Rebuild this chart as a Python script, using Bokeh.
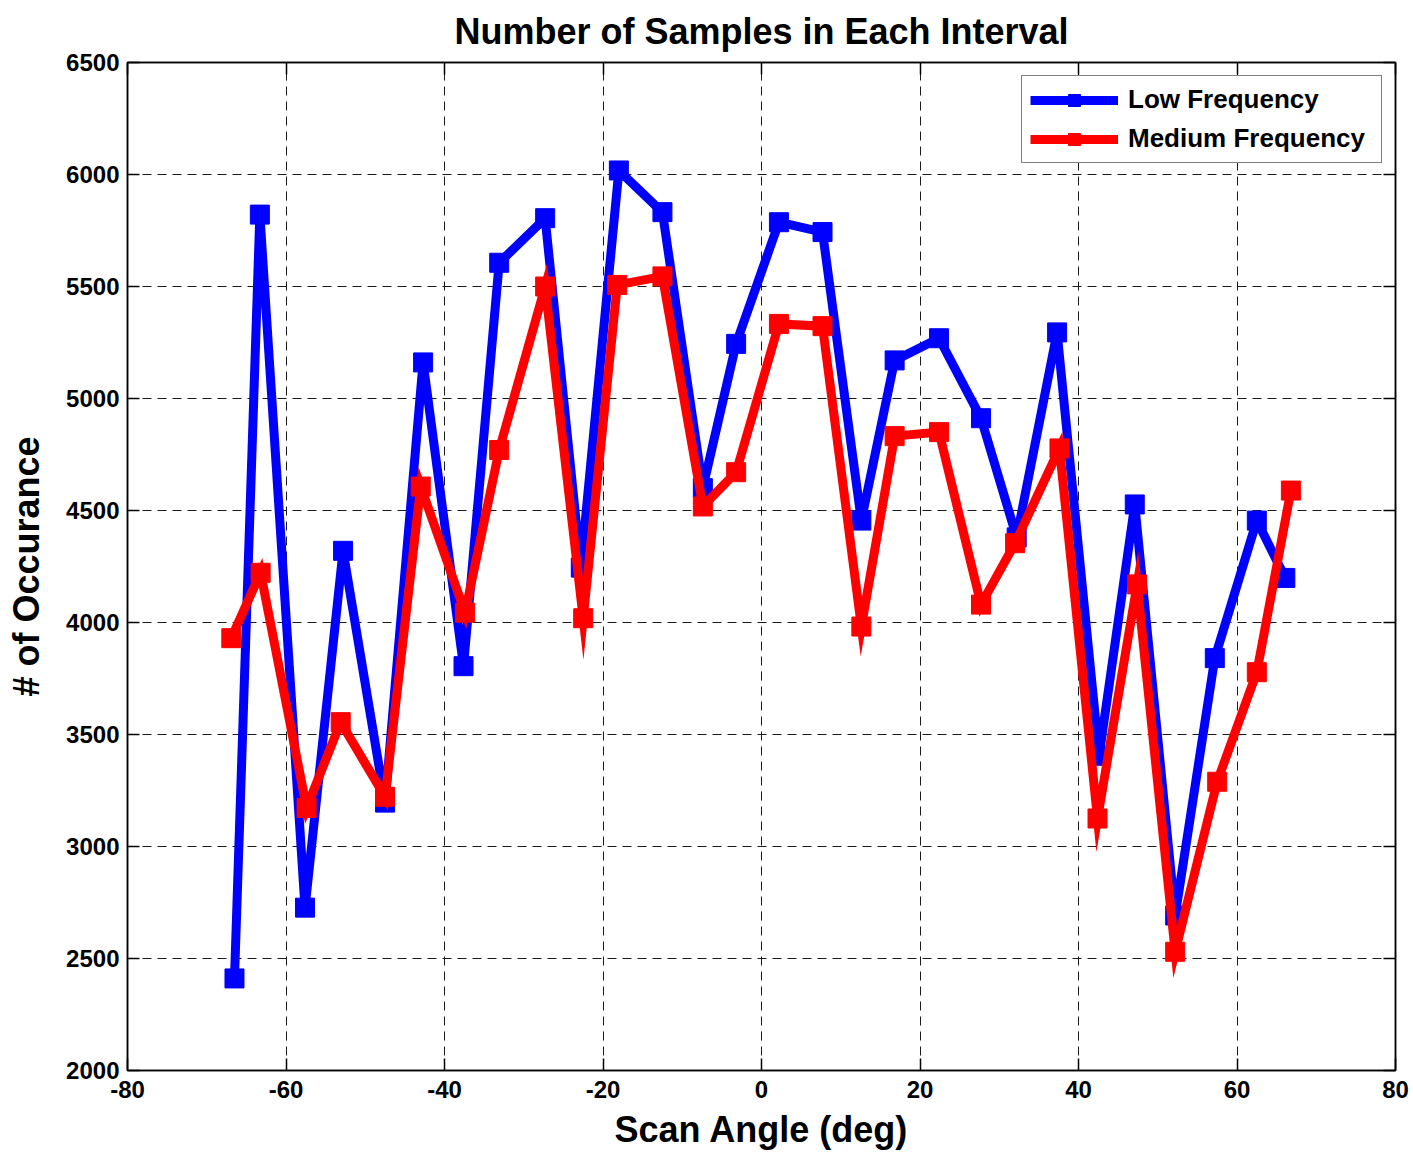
from bokeh.plotting import figure
from bokeh.models import Range1d, LinearAxis, FixedTicker, Legend, LegendItem
from bokeh.embed import file_html
from bokeh.resources import INLINE

# Scan angle of each interval centre (deg) and the sample count in it
low_angle = [-66.5, -63.3, -57.6, -52.8, -47.5, -42.7, -37.6, -33.1, -27.3, -22.8,
             -18.0, -12.5, -7.4, -3.2, 2.2, 7.7, 12.6, 16.8, 22.4, 27.7,
             32.2, 37.3, 42.6, 47.1, 52.2, 57.2, 62.5, 66.1]
low_count = [2411, 5821, 2727, 4320, 3196, 5161, 3805, 5606, 5805, 4245,
             6018, 5832, 4600, 5244, 5787, 5743, 4455, 5170, 5269, 4912,
             4380, 5295, 3405, 4527, 2692, 3841, 4455, 4199]

med_angle = [-66.9, -63.2, -57.4, -53.1, -47.5, -43.0, -37.4, -33.1, -27.3, -22.5,
             -18.2, -12.5, -7.4, -3.2, 2.2, 7.7, 12.6, 16.8, 22.4, 27.7,
             32.0, 37.6, 42.4, 47.4, 52.2, 57.5, 62.5, 66.8]
med_count = [3930, 4222, 3172, 3555, 3222, 4607, 4044, 4770, 5500, 4019,
             5507, 5545, 4518, 4671, 5333, 5323, 3982, 4832, 4850, 4080,
             4354, 4777, 3125, 4170, 2530, 3289, 3778, 4589]

x_ticks = [-80, -60, -40, -20, 0, 20, 40, 60, 80]
y_ticks = [2000, 2500, 3000, 3500, 4000, 4500, 5000, 5500, 6000, 6500]

FONT = "Liberation Sans"

p = figure(width=1413, height=1154,
           x_range=Range1d(-80, 80), y_range=Range1d(2000, 6500),
           output_backend="svg", toolbar_location=None,
           min_border_left=127, min_border_right=18,
           min_border_top=62, min_border_bottom=84,
           x_axis_label="Scan Angle (deg)", y_axis_label="# of Occurance")

p.background_fill_color = "white"
p.border_fill_color = "white"
p.outline_line_color = "black"
p.outline_line_width = 1.5

p.title.text = "Number of Samples in Each Interval"
p.title.align = "center"
p.title.vertical_align = "top"
p.title.text_font = FONT
p.title.text_font_size = "36px"
p.title.text_font_style = "bold"
p.title.text_color = "black"
p.title.standoff = 18

for ax in (p.xaxis[0], p.yaxis[0]):
    ax.axis_line_color = "black"
    ax.axis_line_width = 1.5
    ax.major_tick_in = 12
    ax.major_tick_out = 0
    ax.major_tick_line_color = "black"
    ax.major_tick_line_width = 1.5
    ax.minor_tick_line_color = None
    ax.major_label_text_font = FONT
    ax.major_label_text_font_size = "24px"
    ax.major_label_text_font_style = "bold"
    ax.major_label_text_color = "black"
    ax.axis_label_text_font = FONT
    ax.axis_label_text_font_size = "36px"
    ax.axis_label_text_font_style = "bold"
    ax.axis_label_text_color = "black"

p.xaxis[0].ticker = FixedTicker(ticks=x_ticks)
p.xaxis[0].major_label_overrides = {t: str(t) for t in x_ticks}
p.yaxis[0].ticker = FixedTicker(ticks=y_ticks)
p.xaxis[0].major_label_standoff = 10
p.yaxis[0].major_label_standoff = 8
p.xaxis[0].axis_label_standoff = 8
p.yaxis[0].axis_label_standoff = 16

# Inward ticks on the top and right edges of the box
top_axis = LinearAxis(ticker=FixedTicker(ticks=x_ticks))
right_axis = LinearAxis(ticker=FixedTicker(ticks=y_ticks))
for ax in (top_axis, right_axis):
    ax.axis_line_color = "black"
    ax.axis_line_width = 1.5
    ax.major_tick_in = 12
    ax.major_tick_out = 0
    ax.major_tick_line_color = "black"
    ax.major_tick_line_width = 1.5
    ax.minor_tick_line_color = None
    ax.major_label_text_font_size = "0px"
    ax.major_label_text_color = None
    ax.major_label_standoff = 0
p.add_layout(top_axis, "above")
p.add_layout(right_axis, "right")

p.xgrid.ticker = FixedTicker(ticks=x_ticks)
p.ygrid.ticker = FixedTicker(ticks=y_ticks)
for g in (p.xgrid[0], p.ygrid[0]):
    g.grid_line_color = "#1a1a1a"
    g.grid_line_width = 1
    g.grid_line_dash = "9 6"

low_line = p.line(low_angle, low_count, line_color="#0000ff", line_width=9,
                  line_join="bevel")
low_mark = p.scatter(low_angle, low_count, marker="square", size=19,
                     fill_color="#0000ff", line_color="#0000ff")
med_line = p.line(med_angle, med_count, line_color="#ff0000", line_width=9,
                  line_join="miter")
med_mark = p.scatter(med_angle, med_count, marker="square", size=19,
                     fill_color="#ff0000", line_color="#ff0000")

legend = Legend(items=[
    LegendItem(label="Low Frequency", renderers=[low_line, low_mark]),
    LegendItem(label="Medium Frequency", renderers=[med_line, med_mark]),
], location="top_right")
legend.margin = 13
legend.padding = 8
legend.spacing = 8
legend.glyph_width = 88
legend.glyph_height = 30
legend.label_standoff = 10
legend.label_width = 245
legend.label_text_font = FONT
legend.label_text_font_size = "26px"
legend.label_text_font_style = "bold"
legend.label_text_color = "black"
legend.border_line_color = "black"
legend.border_line_width = 1.5
legend.background_fill_color = "white"
legend.background_fill_alpha = 1.0
p.add_layout(legend, "center")

open("out.html", "w").write(file_html(p, INLINE))
